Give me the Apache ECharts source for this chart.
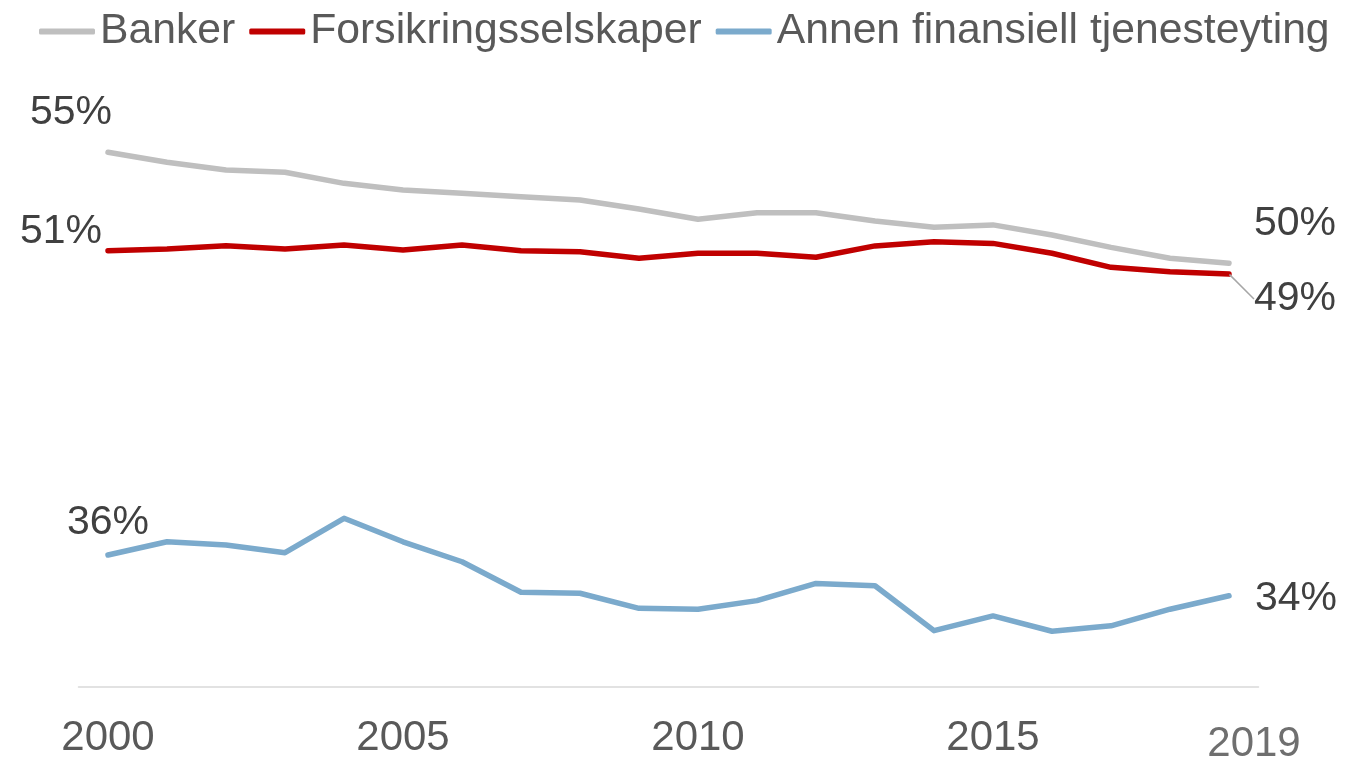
<!DOCTYPE html>
<html>
<head>
<meta charset="utf-8">
<script src="https://cdn.jsdelivr.net/npm/echarts@6/dist/echarts.min.js"></script>
<style>
  html, body { margin: 0; padding: 0; background: #fff; }
  #chart { width: 1362px; height: 759px; }
</style>
</head>
<body>
<div id="chart"></div>
<script>
const years = ['2000', '2001', '2002', '2003', '2004', '2005', '2006', '2007', '2008', '2009',
  '2010', '2011', '2012', '2013', '2014', '2015', '2016', '2017', '2018', '2019']

const banker = [55.25, 54.77, 54.40, 54.30, 53.77, 53.45, 53.30, 53.13, 52.98, 52.55,
  52.06, 52.37, 52.37, 51.98, 51.68, 51.79, 51.31, 50.72, 50.20, 49.96]

const forsikring = [50.56, 50.64, 50.80, 50.64, 50.83, 50.60, 50.83, 50.56, 50.51, 50.20,
  50.44, 50.44, 50.25, 50.79, 50.99, 50.91, 50.44, 49.77, 49.56, 49.45]

const annen = [36.07, 36.70, 36.55, 36.18, 37.82, 36.70, 35.75, 34.30, 34.25, 33.53,
  33.49, 33.90, 34.72, 34.61, 32.47, 33.17, 32.44, 32.70, 33.49, 34.13]

const seriesNames = ['Banker', 'Forsikringsselskaper', 'Annen finansiell tjenesteyting']
const colors = ['#BFBFBF', '#C00000', '#7BAACC']

const font = 'Liberation Sans, Arial, sans-serif'
const last = years.length - 1

// only first and last point get a value label
function withEndLabels(values, firstOffset, lastOffset) {
  return values.map((v, i) => {
    if (i !== 0 && i !== last) return v
    return {
      value: v,
      label: {
        show: true,
        position: 'inside',
        offset: i === 0 ? firstOffset : lastOffset
      }
    }
  })
}

function makeSeries(idx, data) {
  return {
    name: seriesNames[idx],
    type: 'line',
    data: data,
    symbol: 'circle',
    symbolSize: 1,
    showSymbol: true,
    itemStyle: { color: colors[idx] },
    lineStyle: { color: colors[idx], width: 5.5, cap: 'round', join: 'round' },
    emphasis: { disabled: true },
    label: {
      show: false,
      color: '#404040',
      fontSize: 41,
      fontFamily: font,
      formatter: (p) => Math.round(p.value) + '%'
    },
    silent: true,
    animation: false
  }
}

const chart = echarts.init(document.getElementById('chart'), null, { renderer: 'canvas' })

// red series: labels are moved by labelLayout so the last one gets a leader line
const redData = withEndLabels(forsikring, [0, 0], [0, 0])
redData[last].labelLine = { show: true }
const redSeries = makeSeries(1, redData)
redSeries.labelLine = { show: false, lineStyle: { color: '#A6A6A6', width: 1.5 } }
redSeries.labelLayout = (params) => {
  if (params.dataIndex === 0) return { dx: -47, dy: -19 }
  if (params.dataIndex === last) return { dx: 66, dy: 25 }
  return {}
}

chart.setOption({
  backgroundColor: '#fff',
  animation: false,
  legend: {
    left: 34,
    top: 5,
    itemWidth: 56,
    itemHeight: 6,
    itemGap: 14,
    icon: 'roundRect',
    textStyle: { color: '#595959', fontSize: 42.7, fontFamily: font },
    data: seriesNames
  },
  grid: {
    left: 78.5,
    right: 103.5,
    top: 52.5,
    bottom: 72.3,
    containLabel: false,
    outerBoundsMode: 'none'
  },
  xAxis: {
    type: 'category',
    data: years,
    boundaryGap: true,
    axisLine: { show: true, lineStyle: { color: '#D9D9D9', width: 1.5 } },
    axisTick: { show: false },
    axisLabel: {
      interval: (i) => i % 5 === 0 || i === last,
      color: '#595959',
      fontSize: 42,
      fontFamily: font,
      margin: 31,
      hideOverlap: false,
      formatter: (v) => (v === years[last] ? '{end|' + v + '}' : v),
      rich: {
        end: {
          color: '#6F6F6F',
          fontSize: 42,
          fontFamily: font,
          padding: [6, 0, 0, 50]
        }
      }
    }
  },
  yAxis: {
    type: 'value',
    min: 29.8,
    max: 60,
    show: false,
    splitLine: { show: false }
  },
  series: [
    makeSeries(0, withEndLabels(banker, [-37, -40], [66, -40])),
    redSeries,
    makeSeries(2, withEndLabels(annen, [0, -32], [67, 3]))
  ]
})
</script>
</body>
</html>
